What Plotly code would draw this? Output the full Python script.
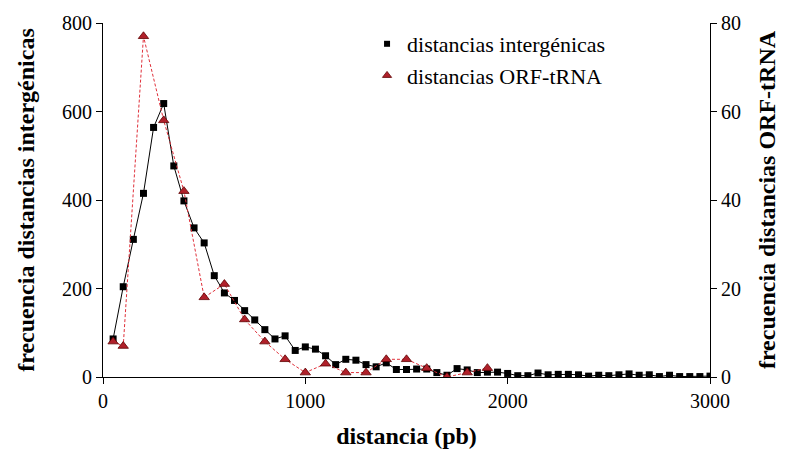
import plotly.graph_objects as go

# Intergenic distances (left axis)
x_inter = [50, 100, 150, 200, 250, 300, 350, 400, 450, 500, 550, 600, 650, 700, 750,
           800, 850, 900, 950, 1000, 1050, 1100, 1150, 1200, 1250, 1300, 1350, 1400,
           1450, 1500, 1550, 1600, 1650, 1700, 1750, 1800, 1850, 1900, 1950, 2000,
           2050, 2100, 2150, 2200, 2250, 2300, 2350, 2400, 2450, 2500, 2550, 2600,
           2650, 2700, 2750, 2800, 2850, 2900, 2950, 3000]
y_inter = [86, 204, 311, 415, 564, 618, 477, 398, 337, 303, 229, 190, 173, 150, 129,
           107, 86, 93, 60, 68, 63, 48, 28, 40, 38, 28, 23, 32,
           17, 17, 18, 18, 10, 4, 19, 16, 10, 11, 11, 8,
           3, 3, 9, 5, 6, 6, 5, 2, 4, 3, 5, 7,
           4, 5, 1, 4, 1, 1, 1, 2]

# ORF-tRNA distances (right axis)
x_orf = [50, 100, 200, 300, 400, 500, 600, 700, 800, 900, 1000, 1100, 1200, 1300,
         1400, 1500, 1600, 1700, 1800, 1900]
y_orf = [8, 7, 77, 58, 42, 18, 21, 13, 8, 4, 1, 3, 1, 1,
         4, 4, 2, 0, 1, 2]

x_ticks = [0, 1000, 2000, 3000]
yl_ticks = [0, 200, 400, 600, 800]
yr_ticks = [0, 20, 40, 60, 80]

FONT = "Liberation Serif"
SQ = dict(symbol="square", size=7, color="black")
TRI = dict(symbol="triangle-up", size=9, color="#b0202a", line=dict(color="#600000", width=0.8))

fig = go.Figure()
fig.add_trace(go.Scatter(
    x=x_inter, y=y_inter, mode="lines+markers", name="distancias intergénicas",
    line=dict(color="black", width=1), marker=SQ, yaxis="y", showlegend=False))
fig.add_trace(go.Scatter(
    x=x_orf, y=y_orf, mode="lines+markers", name="distancias ORF-tRNA",
    line=dict(color="#e0303a", width=1, dash="3px,2px"), marker=TRI,
    yaxis="y2", showlegend=False))
# legend entries (marker only, as in the reference)
fig.add_trace(go.Scatter(x=[None], y=[None], mode="markers", name="distancias intergénicas",
                         marker=dict(symbol="square", size=6, color="black")))
fig.add_trace(go.Scatter(x=[None], y=[None], mode="markers", name="distancias ORF-tRNA",
                         marker=dict(symbol="triangle-up", size=8, color="#b0202a",
                                     line=dict(color="#600000", width=0.8))))

axis_common = dict(showline=True, linecolor="black", linewidth=1, ticks="outside",
                   ticklen=6, tickcolor="black", showgrid=False, zeroline=False,
                   tickfont=dict(family=FONT, size=20, color="black"))

fig.update_layout(
    width=788, height=457,
    margin=dict(l=103, r=78, t=20, b=80),
    paper_bgcolor="white", plot_bgcolor="white",
    font=dict(family=FONT, color="black"),
    showlegend=True,
    legend=dict(x=0.435, y=1.0, xanchor="left", yanchor="top",
                font=dict(family=FONT, size=22, color="black"),
                bgcolor="rgba(0,0,0,0)", itemwidth=30),
    xaxis=dict(range=[0, 3000], tickvals=x_ticks,
               title=dict(text="<b>distancia (pb)</b>", font=dict(family=FONT, size=24),
                          standoff=16),
               **axis_common),
    yaxis=dict(range=[0, 800], tickvals=yl_ticks,
               title=dict(text="<b>frecuencia distancias intergénicas</b>",
                          font=dict(family=FONT, size=24), standoff=20),
               **axis_common),
    yaxis2=dict(range=[0, 80], tickvals=yr_ticks, overlaying="y", side="right",
                title=dict(text="<b>frecuencia distancias ORF-tRNA</b>",
                           font=dict(family=FONT, size=24), standoff=18),
                **axis_common),
)

fig.write_html("out.html")
